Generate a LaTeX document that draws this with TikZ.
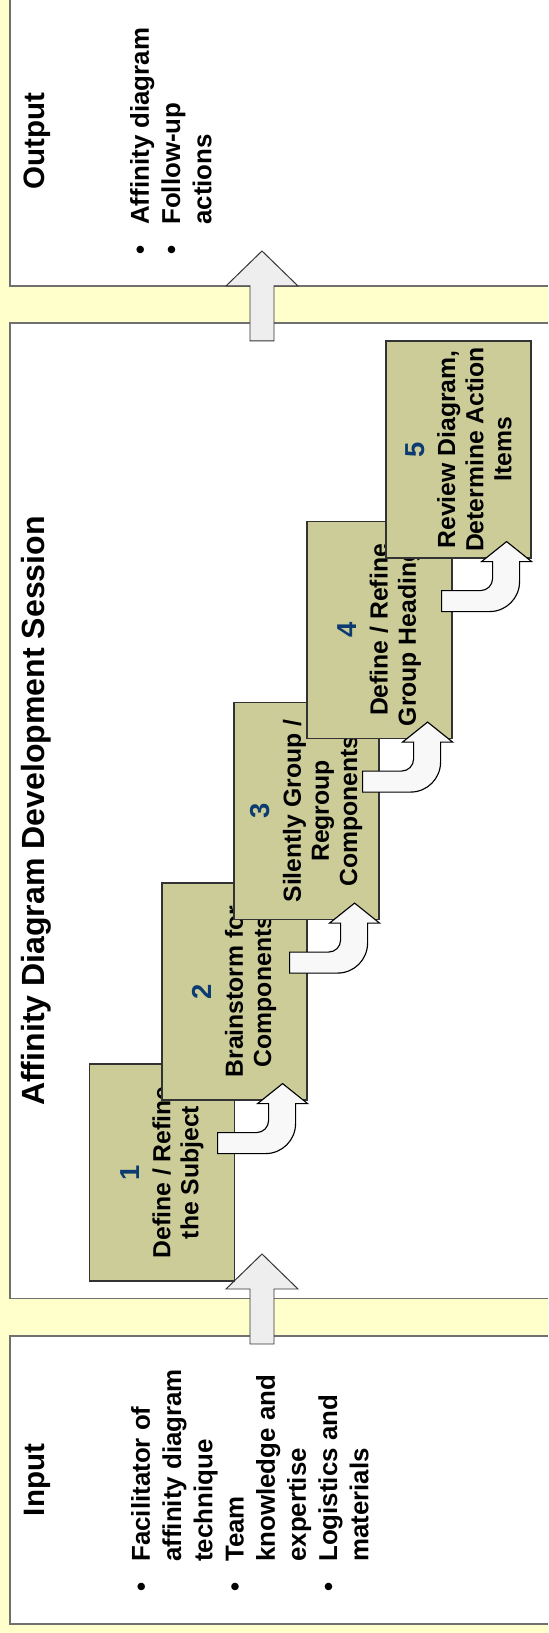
\documentclass[tikz,border=0pt]{standalone}
\usepackage{fontspec}
\setmainfont{Liberation Sans}[BoldFont={Liberation Sans Bold}]
\definecolor{paper}{HTML}{FFFFCC}
\definecolor{panelline}{HTML}{707070}
\definecolor{stepfill}{HTML}{CCCC99}
\definecolor{numblue}{HTML}{0B3B70}
\definecolor{arrowgray}{HTML}{EEEEEE}
\definecolor{bendfill}{HTML}{F8F8F8}
\newcommand{\stepnum}{\color{numblue}\fontsize{19.5}{20}\selectfont}
% straight block arrow, tail at #1
\newcommand{\blockarrow}[1]{\filldraw[blockarrow,shift={(#1)}] (0,-12)--(55,-12)--(55,-36)--(90,0)--(55,36)--(55,12)--(0,12)--cycle;}
% bent arrow, head at the south west corner #1 of the next step
\newcommand{\bendarrow}[1]{\filldraw[bendarrow,shift={(#1)}] (-53,90)--(-53,42) .. controls (-53,25.4) and (-39.6,12) .. (-23,12)--(-3,12)--(-3,0)--(17,25)--(-3,50)--(-3,39)--(-20,39) .. controls (-26.6,39) and (-32,44.4) .. (-32,51)--(-32,90)--cycle;}

\begin{document}
\begin{tikzpicture}[rotate=90,transform shape,x=0.025cm,y=0.025cm,
  panel/.style={fill=white,draw=panelline,line width=1pt},
  paneltitle/.style={anchor=base,inner sep=0pt,font=\fontsize{21}{24}\selectfont\bfseries},
  listtext/.style={anchor=base west,inner sep=0pt,align=left,font=\fontsize{18.4}{22.2}\selectfont\bfseries},
  listdot/.style={anchor=base west,inner sep=0pt,font=\fontsize{18.4}{22.2}\selectfont\bfseries},
  stepbox/.style={fill=stepfill,draw=black!80,line width=0.8pt,minimum width=5.425cm,minimum height=3.625cm,inner sep=0pt,align=center,font=\fontsize{17.6}{20}\selectfont\bfseries},
  blockarrow/.style={fill=arrowgray,draw=black!80,line width=0.7pt},
  bendarrow/.style={fill=bendfill,draw=black,line width=0.8pt}]
\useasboundingbox (0,0) rectangle (1633,548);
\clip (0,0) rectangle (1633,548);
\fill[paper] (0,0) rectangle (1633,548);
% panels
\filldraw[panel] (9,-20) rectangle (297,538);
\filldraw[panel] (334.5,-20) rectangle (1310,538);
\filldraw[panel] (1347,-20) rectangle (1660,538);
\coordinate (inarrow) at (289,286);
\coordinate (outarrow) at (1292,286);
\blockarrow{inarrow}
\blockarrow{outarrow}
% titles
\node[paneltitle] (intitle) at (153,503) {Input};
\node[paneltitle,font=\fontsize{22.8}{24}\selectfont\bfseries] (sessiontitle) at (822,503) {Affinity Diagram Development Session};
\node[paneltitle] (outtitle) at (1492,503) {Output};
% input list (anchored on the last line)
\node[listdot] (indot1) at (41,398) {\textbullet};
\node[listtext] (initem1) at (71,335.6) {Facilitator of\\affinity diagram\\technique};
\node[listdot] (indot2) at (41,304.4) {\textbullet};
\node[listtext] (initem2) at (71,242) {Team\\knowledge and\\expertise};
\node[listdot] (indot3) at (41,210.8) {\textbullet};
\node[listtext] (initem3) at (71,179.6) {Logistics and\\materials};
% output list
\node[listdot] (outdot1) at (1378,399) {\textbullet};
\node[listtext] (outitem1) at (1408,399) {Affinity diagram};
\node[listdot] (outdot2) at (1378,367.8) {\textbullet};
\node[listtext] (outitem2) at (1408,336.6) {Follow-up\\actions};
% steps
\node[stepbox] (s1) at (460.5,386) {{\stepnum 1}\\[2pt]Define / Refine\\the Subject};
\node[stepbox] (s2) at (641.5,313.5) {{\stepnum 2}\\[2pt]Brainstorm for\\Components};
\node[stepbox] (s3) at (822,241.5) {{\stepnum 3}\\[2pt]Silently Group /\\Regroup\\Components};
\node[stepbox] (s4) at (1003,168.5) {{\stepnum 4}\\[2pt]Define / Refine\\Group Headings};
\node[stepbox] (s5) at (1183.5,89.5) {{\stepnum 5}\\[2pt]Review Diagram,\\Determine Action\\Items};
\bendarrow{s2.south west}
\bendarrow{s3.south west}
\bendarrow{s4.south west}
\bendarrow{s5.south west}
\end{tikzpicture}
\end{document}
